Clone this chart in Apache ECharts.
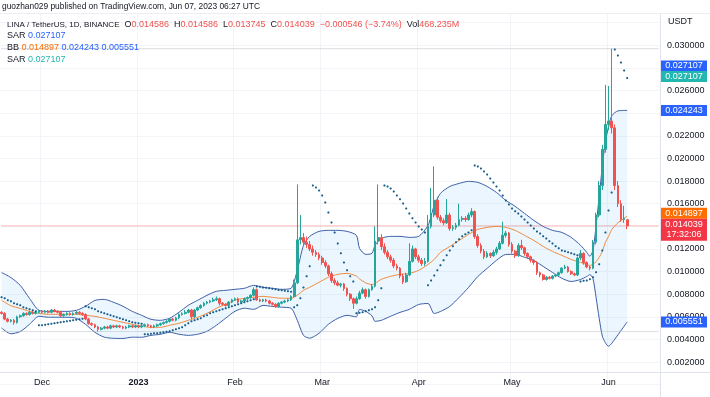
<!DOCTYPE html>
<html><head><meta charset="utf-8">
<script src="https://cdn.jsdelivr.net/npm/echarts@6/dist/echarts.min.js"></script>
<style>html,body{margin:0;padding:0;background:#fff}#c{width:710px;height:397px}</style>
</head><body><div id="c"></div>
<script>
// ---------- data ----------
const firstDate = '2022-11-18';
const dayCount = 212;
const monthLabels = {'2022-12-01':'Dec','2023-01-01':'2023','2023-02-01':'Feb','2023-03-01':'Mar','2023-04-01':'Apr','2023-05-01':'May','2023-06-01':'Jun'};
// daily candles [open, close, low, high], 2022-11-18 .. 2023-06-07
const candles = [
[0.0064,0.0063,0.0062,0.0065],[0.0063,0.0058,0.0057,0.0064],[0.0058,0.0056,0.0055,0.0059],[0.0056,0.0057,0.0055,0.0058],[0.0057,0.0055,0.0053,0.0058],
[0.0055,0.0060,0.0054,0.0061],[0.0060,0.0061,0.0059,0.0062],[0.0061,0.0063,0.0060,0.0064],[0.0063,0.0062,0.0061,0.0064],[0.0062,0.0064,0.0061,0.0065],
[0.0064,0.0063,0.0062,0.0065],[0.0063,0.0064,0.0062,0.0065],[0.0064,0.0065,0.0063,0.0066],[0.0065,0.0064,0.0063,0.0066],[0.0064,0.0065,0.0063,0.0066],
[0.0065,0.0064,0.0063,0.0066],[0.0064,0.0066,0.0063,0.0067],[0.0066,0.0065,0.0064,0.0067],[0.0065,0.0064,0.0063,0.0066],[0.0064,0.0061,0.0060,0.0065],
[0.0061,0.0062,0.0060,0.0063],[0.0062,0.0063,0.0061,0.0064],[0.0063,0.0062,0.0061,0.0064],[0.0062,0.0063,0.0061,0.0064],[0.0063,0.0064,0.0062,0.0065],
[0.0064,0.0063,0.0062,0.0065],[0.0063,0.0062,0.0061,0.0064],[0.0062,0.0058,0.0057,0.0063],[0.0058,0.0054,0.0053,0.0059],[0.0054,0.0053,0.0052,0.0055],
[0.0053,0.0051,0.0050,0.0054],[0.0051,0.0049,0.0047,0.0052],[0.0049,0.0050,0.0048,0.0051],[0.0050,0.0051,0.0049,0.0052],[0.0051,0.0050,0.0049,0.0052],
[0.0050,0.0052,0.0049,0.0053],[0.0052,0.0051,0.0050,0.0053],[0.0051,0.0052,0.0050,0.0053],[0.0052,0.0051,0.0050,0.0053],[0.0051,0.0050,0.0049,0.0052],
[0.0050,0.0051,0.0049,0.0052],[0.0051,0.0052,0.0050,0.0053],[0.0052,0.0051,0.0050,0.0053],[0.0051,0.0052,0.0050,0.0053],[0.0052,0.0051,0.0050,0.0053],
[0.0051,0.0052,0.0050,0.0053],[0.0052,0.0053,0.0051,0.0054],[0.0053,0.0052,0.0051,0.0054],[0.0052,0.0051,0.0050,0.0053],[0.0051,0.0052,0.0050,0.0053],
[0.0052,0.0053,0.0051,0.0054],[0.0053,0.0054,0.0052,0.0055],[0.0054,0.0055,0.0053,0.0056],[0.0055,0.0056,0.0054,0.0057],[0.0056,0.0058,0.0055,0.0059],
[0.0058,0.0057,0.0056,0.0059],[0.0057,0.0059,0.0056,0.0060],[0.0059,0.0062,0.0058,0.0063],[0.0062,0.0063,0.0061,0.0064],[0.0063,0.0064,0.0062,0.0066],
[0.0064,0.0066,0.0063,0.0067],[0.0066,0.0060,0.0058,0.0067],[0.0060,0.0066,0.0059,0.0067],[0.0066,0.0068,0.0065,0.0069],[0.0068,0.0070,0.0067,0.0071],
[0.0070,0.0072,0.0069,0.0073],[0.0072,0.0073,0.0071,0.0074],[0.0073,0.0074,0.0072,0.0075],[0.0074,0.0075,0.0073,0.0077],[0.0075,0.0076,0.0074,0.0078],
[0.0076,0.0072,0.0070,0.0077],[0.0072,0.0071,0.0070,0.0073],[0.0071,0.0070,0.0069,0.0072],[0.0070,0.0073,0.0069,0.0074],[0.0073,0.0075,0.0072,0.0076],
[0.0075,0.0076,0.0074,0.0077],[0.0076,0.0073,0.0072,0.0077],[0.0073,0.0074,0.0072,0.0075],[0.0074,0.0076,0.0073,0.0077],[0.0076,0.0077,0.0075,0.0078],
[0.0077,0.0079,0.0076,0.0080],[0.0079,0.0084,0.0078,0.0086],[0.0084,0.0075,0.0074,0.0085],[0.0075,0.0074,0.0073,0.0076],[0.0074,0.0075,0.0073,0.0076],
[0.0075,0.0074,0.0073,0.0076],[0.0074,0.0072,0.0071,0.0075],[0.0072,0.0071,0.0070,0.0073],[0.0071,0.0069,0.0068,0.0072],[0.0069,0.0072,0.0068,0.0073],
[0.0072,0.0073,0.0071,0.0074],[0.0073,0.0074,0.0072,0.0075],[0.0074,0.0075,0.0073,0.0076],[0.0075,0.0078,0.0074,0.0079],[0.0078,0.0090,0.0077,0.0093],
[0.0090,0.0128,0.0089,0.0177],[0.0128,0.0130,0.0124,0.0150],[0.0130,0.0126,0.0123,0.0134],[0.0126,0.0124,0.0121,0.0131],[0.0124,0.0120,0.0118,0.0127],
[0.0120,0.0117,0.0114,0.0123],[0.0117,0.0115,0.0113,0.0119],[0.0115,0.0112,0.0110,0.0117],[0.0112,0.0108,0.0106,0.0114],[0.0108,0.0105,0.0103,0.0110],
[0.0105,0.0098,0.0096,0.0106],[0.0098,0.0092,0.0090,0.0100],[0.0092,0.0090,0.0088,0.0094],[0.0090,0.0088,0.0087,0.0092],[0.0088,0.0089,0.0086,0.0090],
[0.0089,0.0085,0.0083,0.0090],[0.0085,0.0080,0.0078,0.0086],[0.0080,0.0076,0.0074,0.0081],[0.0076,0.0072,0.0067,0.0077],[0.0072,0.0076,0.0071,0.0078],
[0.0076,0.0081,0.0075,0.0083],[0.0081,0.0084,0.0080,0.0086],[0.0084,0.0078,0.0076,0.0085],[0.0078,0.0084,0.0077,0.0085],[0.0084,0.0087,0.0083,0.0089],
[0.0087,0.0127,0.0086,0.0140],[0.0127,0.0130,0.0124,0.0177],[0.0130,0.0122,0.0119,0.0133],[0.0122,0.0117,0.0115,0.0125],[0.0117,0.0113,0.0111,0.0119],
[0.0113,0.0110,0.0108,0.0115],[0.0110,0.0105,0.0103,0.0112],[0.0105,0.0103,0.0101,0.0107],[0.0103,0.0096,0.0094,0.0104],[0.0096,0.0091,0.0089,0.0098],
[0.0091,0.0097,0.0090,0.0099],[0.0097,0.0109,0.0096,0.0125],[0.0109,0.0120,0.0108,0.0123],[0.0120,0.0113,0.0111,0.0121],[0.0113,0.0110,0.0108,0.0115],
[0.0110,0.0107,0.0105,0.0112],[0.0107,0.0109,0.0105,0.0112],[0.0109,0.0140,0.0108,0.0150],[0.0140,0.0150,0.0138,0.0174],[0.0150,0.0163,0.0148,0.0193],
[0.0163,0.0148,0.0146,0.0166],[0.0148,0.0145,0.0143,0.0150],[0.0145,0.0143,0.0141,0.0147],[0.0143,0.0150,0.0142,0.0164],[0.0150,0.0138,0.0136,0.0152],
[0.0138,0.0139,0.0136,0.0141],[0.0139,0.0141,0.0137,0.0143],[0.0141,0.0146,0.0140,0.0160],[0.0146,0.0147,0.0144,0.0149],[0.0147,0.0146,0.0144,0.0149],
[0.0146,0.0150,0.0145,0.0152],[0.0150,0.0153,0.0148,0.0156],[0.0153,0.0131,0.0129,0.0154],[0.0131,0.0123,0.0121,0.0133],[0.0123,0.0118,0.0116,0.0125],
[0.0118,0.0113,0.0111,0.0120],[0.0113,0.0116,0.0112,0.0118],[0.0116,0.0114,0.0112,0.0117],[0.0114,0.0117,0.0113,0.0119],[0.0117,0.0120,0.0115,0.0122],
[0.0120,0.0125,0.0119,0.0127],[0.0125,0.0132,0.0124,0.0144],[0.0132,0.0134,0.0130,0.0136],[0.0134,0.0124,0.0122,0.0135],[0.0124,0.0118,0.0116,0.0126],
[0.0118,0.0114,0.0112,0.0119],[0.0114,0.0123,0.0113,0.0125],[0.0123,0.0121,0.0119,0.0128],[0.0121,0.0116,0.0114,0.0122],[0.0116,0.0113,0.0111,0.0117],
[0.0113,0.0110,0.0108,0.0114],[0.0110,0.0108,0.0106,0.0111],[0.0108,0.0099,0.0097,0.0109],[0.0099,0.0097,0.0095,0.0100],[0.0097,0.0093,0.0092,0.0098],
[0.0093,0.0095,0.0092,0.0096],[0.0095,0.0094,0.0093,0.0096],[0.0094,0.0096,0.0093,0.0097],[0.0096,0.0097,0.0095,0.0098],[0.0097,0.0099,0.0096,0.0100],
[0.0099,0.0103,0.0098,0.0104],[0.0103,0.0104,0.0102,0.0106],[0.0104,0.0100,0.0099,0.0105],[0.0100,0.0098,0.0097,0.0101],[0.0098,0.0097,0.0096,0.0099],
[0.0097,0.0112,0.0096,0.0113],[0.0112,0.0116,0.0110,0.0119],[0.0116,0.0108,0.0106,0.0117],[0.0108,0.0104,0.0103,0.0109],[0.0104,0.0103,0.0101,0.0105],
[0.0103,0.0126,0.0102,0.0128],[0.0126,0.0150,0.0124,0.0152],[0.0150,0.0176,0.0148,0.0180],[0.0176,0.0208,0.0172,0.0212],[0.0208,0.0230,0.0205,0.0265],
[0.0230,0.0233,0.0225,0.0264],[0.0233,0.0227,0.0222,0.0297],[0.0227,0.0176,0.0172,0.0230],[0.0176,0.0160,0.0157,0.0180],[0.0160,0.0146,0.0144,0.0163],
[0.0146,0.0147,0.0143,0.0158],[0.014586,0.014039,0.013745,0.014586]
];
// Bollinger Bands (20, 2), sampled by day index from first candle
const bbIdx = [0,3,6,9,12,15,18,21,24,27,30,33,36,39,42,45,48,51,54,57,60,63,66,69,72,75,78,81,84,87,90,93,95,97,99,102,105,108,111,114,115,117,119,120,122,125,128,131,134,137,139,141,144,147,150,153,156,159,162,165,168,171,174,177,180,183,186,188,189,190,191,192,193,194,195,196,198,201];
const bbUpper = [0.00991,0.00947,0.00878,0.00762,0.00657,0.00648,0.00648,0.00648,0.00657,0.00693,
0.00745,0.00754,0.00728,0.00693,0.00648,0.00613,0.00578,0.00569,0.00587,0.00640,
0.00702,0.00746,0.00790,0.00825,0.00834,0.00843,0.00852,0.00878,0.00861,0.00852,
0.00843,0.00852,0.01010,0.01232,0.01311,0.01355,0.01364,0.01364,0.01355,0.01320,
0.01205,0.01152,0.01161,0.01232,0.01293,0.01311,0.01311,0.01302,0.01311,0.01408,
0.01585,0.01691,0.01752,0.01779,0.01797,0.01788,0.01752,0.01699,0.01629,0.01576,
0.01514,0.01452,0.01399,0.01364,0.01346,0.01302,0.01232,0.01170,0.01135,0.01188,
0.01408,0.01664,0.01930,0.02150,0.02280,0.02375,0.02420,0.024243];
const bbBasis = [0.00746,0.00698,0.00674,0.00648,0.00631,0.00622,0.00622,0.00622,0.00622,0.00613,
0.00604,0.00587,0.00569,0.00551,0.00534,0.00516,0.00507,0.00507,0.00525,0.00543,
0.00569,0.00596,0.00631,0.00675,0.00711,0.00746,0.00764,0.00772,0.00781,0.00772,
0.00764,0.00764,0.00790,0.00834,0.00861,0.00905,0.00949,0.00975,0.00984,0.00960,
0.00935,0.00900,0.00885,0.00896,0.00931,0.00958,0.00975,0.00984,0.01010,0.01063,
0.01107,0.01169,0.01222,0.01275,0.01328,0.01372,0.01390,0.01399,0.01390,0.01364,
0.01320,0.01275,0.01222,0.01178,0.01143,0.01107,0.01081,0.01063,0.01054,0.01063,
0.01089,0.01125,0.01180,0.01260,0.01310,0.01370,0.01430,0.014897];
const bbLower = [0.00501,0.00450,0.00470,0.00534,0.00605,0.00596,0.00596,0.00596,0.00587,0.00533,
0.00463,0.00420,0.00410,0.00409,0.00420,0.00419,0.00436,0.00445,0.00463,0.00446,
0.00436,0.00446,0.00472,0.00525,0.00588,0.00649,0.00676,0.00666,0.00701,0.00692,
0.00685,0.00676,0.00570,0.00436,0.00411,0.00455,0.00534,0.00586,0.00613,0.00600,
0.00665,0.00648,0.00609,0.00560,0.00569,0.00605,0.00639,0.00666,0.00709,0.00718,
0.00629,0.00647,0.00692,0.00771,0.00859,0.00956,0.01028,0.01099,0.01151,0.01152,
0.01126,0.01098,0.01045,0.00992,0.00940,0.00912,0.00930,0.00956,0.00973,0.00938,
0.00770,0.00586,0.00430,0.00370,0.00340,0.00365,0.00440,0.005551];
// Parabolic SAR, one value per candle
const sar = [
0.00772,0.00763,0.00746,0.00737,0.00719,0.00710,0.00702,0.00684,0.00675,0.00666,0.00657,0.00649,
0.00525,0.00525,0.00529,0.00534,0.00538,0.00543,0.00547,0.00552,0.00556,0.00560,0.00565,0.00569,0.00574,0.00578,0.00583,
0.00693,0.00684,0.00675,0.00666,0.00649,0.00640,0.00631,0.00622,0.00613,0.00604,0.00596,0.00587,0.00578,0.00569,0.00560,0.00552,0.00547,0.00543,0.00538,
0.00445,0.00445,0.00450,0.00454,0.00454,0.00459,0.00463,0.00468,0.00472,0.00481,0.00490,0.00499,0.00507,0.00525,0.00543,0.00560,0.00569,0.00578,0.00587,0.00604,0.00613,0.00631,0.00640,0.00649,0.00657,0.00666,0.00675,0.00684,0.00693,0.00702,0.00710,0.00719,0.00728,0.00737,0.00746,0.00755,
0.00869,0.00865,0.00860,0.00856,0.00852,0.00847,0.00843,0.00838,0.00834,0.00830,0.00825,0.00821,
0.00684,0.00702,0.00763,0.00860,0.00958,0.01046,
0.01761,0.01743,0.01717,0.01673,0.01611,0.01523,0.01434,0.01346,0.01249,0.01161,0.01081,0.01011,0.00958,0.00913,
0.00631,0.00635,0.00640,0.00649,0.00657,0.00666,0.00684,0.00746,0.00852,
0.01761,0.01752,0.01735,0.01708,0.01673,0.01638,0.01602,0.01558,0.01514,0.01470,0.01434,0.01399,0.01372,0.01346,
0.00878,0.00922,0.00966,0.01011,0.01055,0.01099,0.01143,0.01187,0.01223,0.01258,0.01285,0.01311,0.01329,0.01346,0.01364,
0.01938,0.01929,0.01911,0.01885,0.01858,0.01823,0.01788,0.01752,0.01717,0.01673,0.01629,0.01593,0.01558,0.01532,0.01514,0.01487,0.01461,0.01434,0.01408,0.01381,0.01355,0.01337,0.01311,0.01293,0.01267,0.01249,0.01223,0.01205,0.01187,0.01179,0.01170,0.01161,0.01152,0.01143,
0.00913,0.00918,0.00922,0.00931,0.00949,0.00993,0.01064,0.01187,0.01346,0.01540,0.01699,
0.02962,0.02909,0.02847,0.02777,0.027107
];
const priceTicks = [0.002,0.004,0.006,0.008,0.010,0.012,0.014,0.016,0.018,0.020,0.022,0.024,0.026,0.028,0.030];
const headerTitle = 'guozhan029 published on TradingView.com, Jun 07, 2023 06:27 UTC';
const symbolText = 'LINA / TetherUS, 1D, BINANCE';
const changeText = '\u22120.000546 (\u22123.74%)';
const volumeText = '468.235M';
const countdownText = '17:32:06';

// ---------- style ----------
const FONT = 'Liberation Sans, Arial, sans-serif';
const UP = '#26a69a', DOWN = '#ef5350';
const BLUE = '#2962ff', TEAL = '#22b8b0', ORANGE = '#ff6d00', RED = '#f23645';
const TXT = '#131722';

const cats = [];
const t0 = Date.parse(firstDate + 'T00:00:00Z');
for (let i = 0; i < dayCount; i++) cats.push(new Date(t0 + i * 86400000).toISOString().slice(0, 10));

const last = candles[candles.length - 1];
const hiVal = Math.max.apply(null, candles.map(c => c[3]));
const loVal = Math.min.apply(null, candles.map(c => c[2]));
const lastSar = sar[sar.length - 1];
const lastUpper = bbUpper[bbUpper.length - 1], lastBasis = bbBasis[bbBasis.length - 1], lastLower = bbLower[bbLower.length - 1];

const pairs = (idx, vals) => idx.map((x, k) => [x, vals[k]]);
const sarData = sar.map((v, i) => [i, v]);
const hLine = (v, color, op) => ({type: 'line', data: [[0, v], [dayCount - 1, v]], showSymbol: false, silent: true, z: 6,
  lineStyle: {type: 'dotted', color: color, width: 1, opacity: op}});

const chart = echarts.init(document.getElementById('c'), null, {width: 710, height: 397});
const G = {left: -3.23, right: 50.1};
const option = {
  animation: false,
  backgroundColor: '#ffffff',
  grid: [
    {left: G.left, right: G.right, top: -0.6, bottom: 12.3},
    {left: G.left, right: G.right, top: 371, height: 1}
  ],
  xAxis: [
    {type: 'category', data: cats, gridIndex: 0, axisLine: {show: false}, axisTick: {show: false}, axisLabel: {show: false},
     splitLine: {show: true, interval: (i, v) => !!monthLabels[v], lineStyle: {color: '#f3f4f7', width: 1}}},
    {type: 'category', data: cats, gridIndex: 1, axisLine: {show: false}, axisTick: {show: false},
     axisLabel: {interval: (i, v) => !!monthLabels[v], formatter: v => v.startsWith('2023-01') ? '{b|' + monthLabels[v] + '}' : monthLabels[v],
       margin: 6, fontSize: 9, color: TXT, fontFamily: FONT, rich: {b: {fontWeight: 'bold', fontSize: 9, color: TXT, fontFamily: FONT}}}}
  ],
  yAxis: [
    {type: 'value', gridIndex: 0, position: 'right', min: 0, max: 0.034, interval: 0.002,
     axisLine: {show: false}, axisTick: {show: false},
     axisLabel: {margin: 7, fontSize: 9, color: TXT, fontFamily: FONT,
       formatter: v => priceTicks.some(t => Math.abs(t - v) < 1e-9) ? v.toFixed(6) : ''},
     splitLine: {lineStyle: {color: '#f3f4f7', width: 1}}},
    {type: 'value', gridIndex: 1, show: false}
  ],
  series: [
    {type: 'custom', xAxisIndex: 0, yAxisIndex: 0, data: [[0, 0]], silent: true, z: 1,
     renderItem: function (params, api) {
       const pts = [];
       for (let k = 0; k < bbIdx.length; k++) pts.push(api.coord([bbIdx[k], bbUpper[k]]));
       for (let k = bbIdx.length - 1; k >= 0; k--) pts.push(api.coord([bbIdx[k], bbLower[k]]));
       return {type: 'polygon', shape: {points: pts, smooth: 0}, style: {fill: 'rgba(33,150,243,0.09)'}};
     }},
    {type: 'line', data: pairs(bbIdx, bbUpper), showSymbol: false, smooth: 0.25, silent: true, z: 2,
     lineStyle: {color: '#3d5fa8', width: 1}},
    {type: 'line', data: pairs(bbIdx, bbLower), showSymbol: false, smooth: 0.25, silent: true, z: 2,
     lineStyle: {color: '#3d5fa8', width: 1}},
    {type: 'line', data: pairs(bbIdx, bbBasis), showSymbol: false, smooth: 0.25, silent: true, z: 2,
     lineStyle: {color: '#f08a3c', width: 1}},
    hLine(last[1], '#ef5350', 0.75),
    hLine(hiVal, '#b2b5be', 0.9),
    hLine(loVal, '#b2b5be', 0.9),
    {type: 'candlestick', data: candles, barWidth: 2.2, z: 7,
     itemStyle: {color: UP, color0: DOWN, borderColor: UP, borderColor0: DOWN, borderWidth: 1}},
    {type: 'scatter', data: sarData, symbol: 'circle', symbolSize: 2, silent: true, z: 8,
     itemStyle: {color: TEAL}},
    {type: 'scatter', data: sarData, symbol: 'circle', symbolSize: 2, silent: true, z: 9,
     itemStyle: {color: '#1c3a7a'}}
  ]
};
chart.setOption(option);

// ---------- header, frame and price tags ----------
const f6 = v => v.toFixed(6);
const yPix = v => chart.convertToPixel({yAxisIndex: 0}, v);
const rs = (fill, size) => ({fill: fill, fontSize: size || 9, fontFamily: FONT});
const rich = {k: rs(TXT), s: rs(TXT, 8), r: rs(DOWN), b: rs(BLUE), o: rs(ORANGE), t: rs(TEAL)};
const txt = (x, y, text, size) => ({type: 'text', x: x, y: y, silent: true, z: 50,
  style: {text: text, font: (size || 9) + 'px ' + FONT, fill: TXT, verticalAlign: 'middle', rich: rich}});
const tag = (y, lines, bg) => ({type: 'group', zlevel: 1, z: 60, silent: true, children: [
  {type: 'rect', zlevel: 1, shape: {x: 661, y: y - 5.5, width: 46, height: 11 * lines.length}, style: {fill: bg}},
  ...lines.map((s, k) => ({type: 'text', zlevel: 1, x: 684, y: y + k * 10.5, style: {text: s, font: '9px ' + FONT, fill: '#ffffff', align: 'center', verticalAlign: 'middle'}}))
]});
const graphic = [
  {type: 'line', silent: true, z: 40, shape: {x1: 660.5, y1: 13, x2: 660.5, y2: 397}, style: {stroke: '#e0e3eb', lineWidth: 1}},
  {type: 'line', silent: true, z: 40, shape: {x1: 0, y1: 372.5, x2: 710, y2: 372.5}, style: {stroke: '#e0e3eb', lineWidth: 1}},
  {type: 'line', silent: true, z: 40, shape: {x1: 0, y1: 13.5, x2: 710, y2: 13.5}, style: {stroke: '#eceef2', lineWidth: 1}},
  {type: 'rect', silent: true, z: 39, shape: {x: 0, y: 0, width: 710, height: 13}, style: {fill: '#ffffff'}},
  txt(2, 7, headerTitle, 8.4),
  txt(7, 25, '{s|' + symbolText + '}{k|  O}{r|' + f6(last[0]) + '}{k|  H}{r|' + f6(last[3]) + '}{k|  L}{r|' + f6(last[2]) + '}{k|  C}{r|' + f6(last[1]) + '}{r|  ' + changeText + '}{k|  Vol}{r|' + volumeText + '}'),
  txt(7, 36, '{k|SAR }{b|' + f6(lastSar) + '}'),
  txt(7, 48, '{k|BB }{o|' + f6(lastBasis) + '}{b| ' + f6(lastUpper) + '}{b| ' + f6(lastLower) + '}'),
  txt(7, 59.5, '{k|SAR }{t|' + f6(lastSar) + '}'),
  txt(668, 22, 'USDT'),
  tag(yPix(lastSar) - 12, [f6(lastSar)], BLUE),
  tag(yPix(lastSar) - 1.5, [f6(lastSar)], TEAL),
  tag(yPix(lastUpper), [f6(lastUpper)], BLUE),
  tag(yPix(lastBasis) - 3, [f6(lastBasis)], ORANGE),
  tag(yPix(last[1]) - 1.5, [f6(last[1]), countdownText], RED),
  tag(yPix(lastLower), [f6(lastLower)], BLUE)
];
chart.setOption({graphic: graphic});
</script>
</body></html>
